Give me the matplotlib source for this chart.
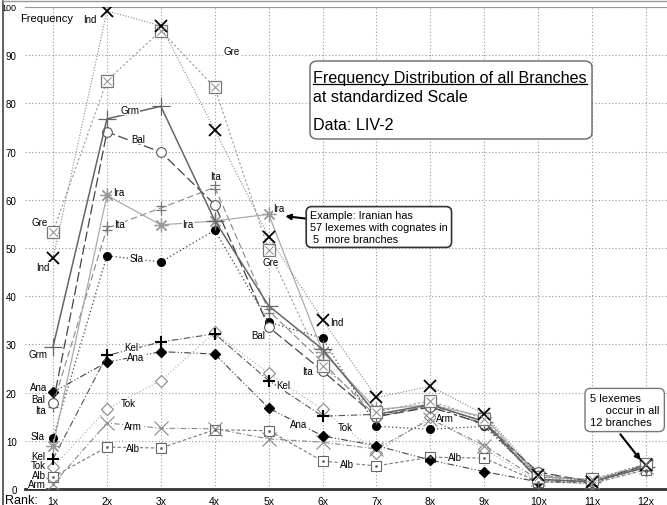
import numpy as np
import matplotlib.pyplot as plt
from matplotlib.path import Path
from matplotlib.lines import Line2D
from matplotlib.patches import FancyBboxPatch

plt.rcParams['font.family'] = ['Liberation Sans', 'DejaVu Sans']

ranks = np.arange(1, 13)
rank_labels = [str(r) + "x" for r in ranks]

# frequencies per branch, standardized scale
ind = [47.9, 99.2, 96.1, 74.5, 52.3, 35.1, 19.0, 21.3, 15.5, 3.0, 1.5, 5.0]
gre = [53.4, 84.7, 95.1, 83.3, 49.6, 25.5, 16.0, 18.3, 14.5, 2.5, 2.0, 5.2]
grm = [29.5, 76.8, 79.4, 55.7, 38.0, 29.0, 15.5, 17.5, 14.0, 2.0, 1.5, 4.5]
bal = [17.8, 74.1, 69.9, 59.0, 33.6, 24.5, 15.0, 17.0, 13.5, 3.5, 1.5, 5.0]
ira = [8.9, 60.9, 54.8, 55.6, 57.0, 28.5, 16.5, 17.5, 15.0, 2.5, 2.0, 4.5]
ita = [17.5, 54.1, 58.3, 62.6, 37.0, 26.3, 15.0, 17.3, 14.0, 3.0, 1.5, 4.8]
sla = [10.6, 48.4, 47.1, 53.7, 34.6, 31.3, 13.0, 12.4, 13.0, 2.5, 1.8, 5.2]
kel = [6.2, 27.7, 30.5, 32.2, 22.5, 15.1, 15.5, 17.0, 13.5, 2.0, 1.5, 4.8]
ana = [20.1, 26.3, 28.5, 28.0, 16.8, 11.0, 9.0, 6.0, 3.6, 1.5, 1.5, 4.5]
tok = [4.5, 16.6, 22.5, 32.5, 24.0, 16.5, 7.5, 15.0, 8.3, 1.5, 1.0, 4.0]
arm = [1.0, 13.7, 12.6, 12.5, 10.4, 9.7, 8.3, 14.5, 9.0, 2.0, 1.5, 4.5]
alb = [2.5, 8.7, 8.5, 12.3, 12.1, 5.8, 4.8, 6.6, 6.4, 1.5, 1.2, 4.0]

# double cross marker for Italic
dcross = Path([(0, -1), (0, 1), (-0.7, 0.35), (0.7, 0.35), (-0.7, -0.35), (0.7, -0.35)],
              [Path.MOVETO, Path.LINETO, Path.MOVETO, Path.LINETO, Path.MOVETO, Path.LINETO])

W, H = 667, 506
fig = plt.figure(figsize=(W / 100, H / 100), dpi=100)
ax = fig.add_axes([25 / W, 16 / H, (W - 25) / W, (490 - 8) / H])

def fx(x):
    return x / W

def fy(y):
    return 1 - y / H

series = [
    (tok, dict(color='#aaaaaa', ls=(0, (1, 2)), lw=0.8, marker='D', ms=6, mfc='white', mec='#888888', mew=0.8)),
    (alb, dict(color='#777777', ls=(0, (3, 2)), lw=0.8, marker='s', ms=7, mfc='white', mec='#666666', mew=0.8)),
    (arm, dict(color='#888888', ls=(0, (5, 2, 1, 2)), lw=0.8, marker='x', ms=10, mec='#888888', mew=0.8)),
    (ana, dict(color='#444444', ls=(0, (6, 2, 1, 2, 1, 2)), lw=0.8, marker='D', ms=5.5, mfc='black', mec='black')),
    (kel, dict(color='#555555', ls=(0, (6, 2, 1, 2)), lw=0.8, marker='+', ms=9, mec='black', mew=1.5)),
    (sla, dict(color='#444444', ls=(0, (1, 2)), lw=0.9, marker='o', ms=5.5, mfc='black', mec='black')),
    (ita, dict(color='#888888', ls=(0, (6, 3)), lw=0.8, marker=dcross, ms=10, mec='#777777', mew=0.9)),
    (ira, dict(color='#aaaaaa', ls='-', lw=0.9, marker=(8, 2, 0), ms=10, mec='#999999', mew=0.9)),
    (bal, dict(color='#444444', ls=(0, (8, 3)), lw=0.9, marker='o', ms=7, mfc='white', mec='#555555', mew=0.8)),
    (grm, dict(color='#666666', ls='-', lw=1.1, marker='+', ms=13, mec='#666666', mew=0.9)),
    (gre, dict(color='#999999', ls=(0, (2, 2)), lw=0.8, marker='s', ms=8, mfc='white', mec='#777777', mew=0.9)),
    (ind, dict(color='#888888', ls=(0, (1, 1.5)), lw=0.8, marker='x', ms=8, mec='black', mew=1.3)),
]
for vals, st in series:
    ax.plot(ranks, vals, zorder=3, **st)
# cross inside the Greek squares, dot inside the Albanian squares
ax.plot(ranks, gre, ls='none', marker='x', ms=6, mec='#888888', mew=0.7, zorder=4)
ax.plot(ranks, alb, ls='none', marker='.', ms=2, mec='#666666', zorder=4)

ax.set_xlim(0.48, 12.39)
ax.set_ylim(0, 100)
ax.set_xticks(ranks)
ax.set_xticklabels(rank_labels, fontsize=7.5)
ax.set_yticks(np.arange(0, 101, 10))
ax.set_yticklabels([str(v) for v in range(0, 101, 10)], fontsize=7)
ax.get_yticklabels()[-1].set_fontsize(6.5)
ax.tick_params(length=0)
ax.tick_params(axis='x', pad=5)
ax.tick_params(axis='y', pad=6)
ax.grid(True, color='#999999', ls=(0, (1, 2)), lw=0.8)
ax.set_axisbelow(True)
for s in ['left', 'right']:
    ax.spines[s].set_visible(False)
ax.spines['top'].set_color('#999999')
ax.spines['bottom'].set_linewidth(2)
ax.spines['bottom'].set_color('#333333')

# outer frame
fig.add_artist(Line2D([fx(3), fx(3)], [fy(2), 0], color='#444444', lw=1.2))
fig.add_artist(Line2D([fx(3), 1], [fy(2), fy(2)], color='#999999', lw=1.0))

fig.text(fx(20), fy(19), "Frequency", fontsize=8, va='center', ha='left')
fig.text(fx(5), fy(501), "Rank:", fontsize=9, va='center', ha='left')

# branch names next to the lines
names = [
    ("Ind", 1.69, 97.5), ("Gre", 4.32, 90.9), ("Grm", 2.43, 78.6), ("Bal", 2.58, 72.6),
    ("Ita", 4.01, 65.0), ("Ira", 2.21, 61.6), ("Ita", 2.24, 55.0), ("Ira", 3.50, 55.0),
    ("Sla", 2.55, 47.9), ("Ira", 5.19, 58.3), ("Gre", 5.04, 47.1), ("Bal", 4.80, 32.0),
    ("Ind", 6.27, 34.6), ("Ita", 5.73, 24.5), ("Gre", 0.76, 55.4), ("Ind", 0.81, 46.0),
    ("Grm", 0.73, 28.0), ("Ana", 0.73, 21.2), ("Bal", 0.73, 18.6), ("Ita", 0.76, 16.4),
    ("Sla", 0.72, 11.0), ("Kel", 0.72, 6.8), ("Tok", 0.72, 4.9), ("Alb", 0.74, 2.9),
    ("Arm", 0.70, 1.1), ("Kel", 2.46, 29.5), ("Ana", 2.54, 27.4), ("Tok", 2.39, 17.8),
    ("Arm", 2.48, 13.0), ("Alb", 2.48, 8.5), ("Kel", 5.27, 21.6), ("Ana", 5.55, 13.5),
    ("Tok", 6.42, 12.9), ("Alb", 6.45, 5.2), ("Arm", 8.27, 14.7), ("Alb", 8.46, 6.6),
]
for name, x, y in names:
    ax.text(x, y, name, fontsize=7, ha='center', va='center', zorder=5,
            bbox=dict(boxstyle='square,pad=0.02', fc='white', ec='none'))

# title box
box = FancyBboxPatch((fx(310), fy(140)), fx(282), 78 / H, boxstyle='round,pad=0,rounding_size=0.012',
                     transform=fig.transFigure, fc='white', ec='#666666', lw=1.0, zorder=6)
fig.add_artist(box)
t1 = fig.text(fx(313), fy(78), "Frequency Distribution of all Branches", fontsize=11.6, va='center', zorder=7)
fig.text(fx(313), fy(98), "at standardized Scale", fontsize=11.6, va='center', zorder=7)
fig.text(fx(313), fy(126), "Data: LIV-2", fontsize=11.6, va='center', zorder=7)
fig.canvas.draw()
bb = t1.get_window_extent()
fig.add_artist(Line2D([bb.x0 / W, bb.x1 / W], [(bb.y0 + 1) / H, (bb.y0 + 1) / H], color='black', lw=0.9, zorder=7))

# callouts
ax.annotate("Example: Iranian has\n57 lexemes with cognates in\n 5  more branches", xy=(5, ira[4]),
            xytext=(310, H - 228), textcoords='figure pixels', fontsize=7.8, va='center', ha='left',
            xycoords='data', zorder=8,
            bbox=dict(boxstyle='round,pad=0.35,rounding_size=0.5', fc='white', ec='#333333', lw=1.2),
            arrowprops=dict(arrowstyle='-|>', color='black', lw=1.5, shrinkA=0, shrinkB=12))
ax.annotate("5 lexemes\n     occur in all\n12 branches", xy=(11.95, 5.3),
            xytext=(590, H - 411), textcoords='figure pixels', fontsize=8, va='center', ha='left',
            zorder=8,
            bbox=dict(boxstyle='round,pad=0.45,rounding_size=0.5', fc='white', ec='#777777', lw=1.0),
            arrowprops=dict(arrowstyle='-|>', color='black', lw=1.5, shrinkA=2, shrinkB=3,
                            relpos=(0.35, 0)))

fig.savefig("out.png", dpi=100)
